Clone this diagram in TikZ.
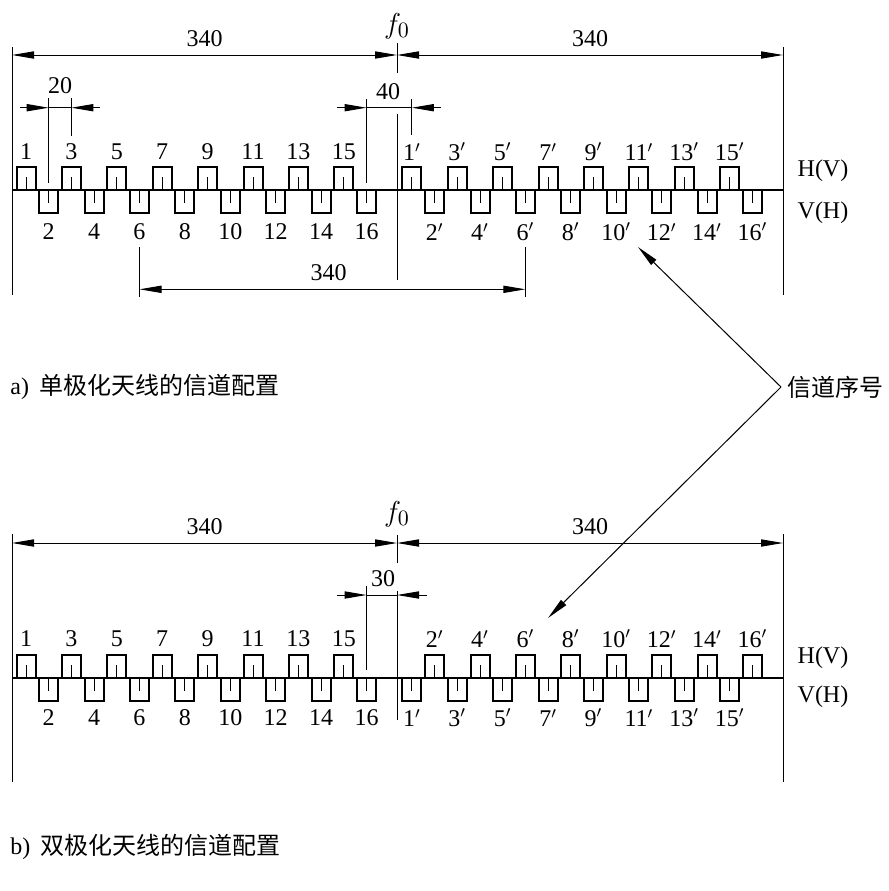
\documentclass[tikz,border=0pt]{standalone}
\usepackage{fontspec}
\setmainfont{Liberation Serif}
\newfontfamily\cjk{Noto Sans CJK SC}
\usetikzlibrary{arrows.meta}

\begin{document}
\begin{tikzpicture}[x=0.5pt, y=-0.5pt, every node/.style={font=\fontsize{12}{14}\selectfont, inner sep=1pt}, >={Triangle[length=11pt, width=3.6pt]}, thinline/.style={line width=0.5pt}, chan/.style={line width=1pt}, freq/.style={font=\fontsize{15}{17}\selectfont}]
	\useasboundingbox (0,0) rectangle (889,891);
	\begin{scope}
		\draw[thinline] (12,47) -- (12,295) (783,47) -- (783,295);
		\coordinate (aL) at (12,55); \coordinate (aC) at (397,55); \coordinate (aR) at (783,55);
		\draw[thinline, <->] (aL) -- (aC) node[midway, above=3pt] {340};
		\draw[thinline, <->] (aC) -- (aR) node[midway, above=3pt] {340};
		\node[freq] (af) at (397,26) {$f_0$};
		\draw[thinline] (397,43) -- (397,73) (397,114) -- (397,280);
		\draw[chan] (12,190) -- (783,190);
		\foreach \n in {1,...,16} {
			\pgfmathsetmacro{\cx}{26+(\n-1)*22.7}
			\ifodd\n
				\draw[chan] (\cx-9.5,190) |- (\cx+9.5,167) -- (\cx+9.5,190);
				\draw[thinline] (\cx,190) -- (\cx,177);
				\node (a\n) at (\cx,152) {\n};
			\else
				\draw[chan] (\cx-9.5,190) |- (\cx+9.5,213) -- (\cx+9.5,190);
				\draw[thinline] (\cx,190) -- (\cx,203);
				\node (a\n) at (\cx,232) {\n};
			\fi
		}
		\foreach \n in {1,...,16} {
			\pgfmathsetmacro{\cx}{26+(\n+16)*22.7}
			\ifodd\n
				\draw[chan] (\cx-9.5,190) |- (\cx+9.5,167) -- (\cx+9.5,190);
				\draw[thinline] (\cx,190) -- (\cx,177);
				\node (ap\n) at (\cx,152) {\n$'$};
			\else
				\draw[chan] (\cx-9.5,190) |- (\cx+9.5,213) -- (\cx+9.5,190);
				\draw[thinline] (\cx,190) -- (\cx,203);
				\node (ap\n) at (\cx,232) {\n$'$};
			\fi
		}
		\node (ahv) at (823,171) {H(V)};
		\node (avh) at (823,213) {V(H)};
		\draw[thinline] (48.7,98) -- (48.7,183) (71.4,98) -- (71.4,136);
		\coordinate (s20l) at (48.7,107.7); \coordinate (s20r) at (71.4,107.7);
		\draw[thinline] (s20l) -- (s20r);
		\draw[thinline, ->] (20,107.7) -- (s20l);
		\draw[thinline, ->] (100,107.7) -- (s20r);
		\node (n20) at (60,86) {20};
		\draw[thinline] (366.5,99) -- (366.5,183) (411.9,99) -- (411.9,135);
		\coordinate (s40l) at (366.5,107.7); \coordinate (s40r) at (411.9,107.7);
		\draw[thinline] (s40l) -- (s40r);
		\draw[thinline, ->] (336.7,107.7) -- (s40l);
		\draw[thinline, ->] (440.7,107.7) -- (s40r);
		\node (n40) at (388,92) {40};
		\draw[thinline] (139.5,247) -- (139.5,297) (525.4,247) -- (525.4,297);
		\coordinate (s6l) at (139.5,289.3); \coordinate (s6r) at (525.4,289.3);
		\draw[thinline, <->] (s6l) -- (s6r) node[pos=0.49, above=3pt] {340};
		\node[anchor=west] (capa) at (8,387) {a)\, {\cjk 单极化天线的信道配置}};
	\end{scope}
	\begin{scope}[shift={(0,488)}]
		\draw[thinline] (12,46) -- (12,294) (783,46) -- (783,294);
		\coordinate (bL) at (12,55); \coordinate (bC) at (397,55); \coordinate (bR) at (783,55);
		\draw[thinline, <->] (bL) -- (bC) node[midway, above=3pt] {340};
		\draw[thinline, <->] (bC) -- (bR) node[midway, above=3pt] {340};
		\node[freq] (bf) at (397,26) {$f_0$};
		\draw[thinline] (397,47) -- (397,75) (397,103) -- (397,232);
		\draw[chan] (12,190) -- (783,190);
		\foreach \n in {1,...,16} {
			\pgfmathsetmacro{\cx}{26+(\n-1)*22.7}
			\ifodd\n
				\draw[chan] (\cx-9.5,190) |- (\cx+9.5,167) -- (\cx+9.5,190);
				\draw[thinline] (\cx,190) -- (\cx,177);
				\node (b\n) at (\cx,151) {\n};
			\else
				\draw[chan] (\cx-9.5,190) |- (\cx+9.5,213) -- (\cx+9.5,190);
				\draw[thinline] (\cx,190) -- (\cx,203);
				\node (b\n) at (\cx,230) {\n};
			\fi
		}
		\foreach \n in {1,...,16} {
			\pgfmathsetmacro{\cx}{26+(\n+16)*22.7}
			\ifodd\n
				\draw[chan] (\cx-9.5,190) |- (\cx+9.5,213) -- (\cx+9.5,190);
				\draw[thinline] (\cx,190) -- (\cx,203);
				\node (bp\n) at (\cx,230) {\n$'$};
			\else
				\draw[chan] (\cx-9.5,190) |- (\cx+9.5,167) -- (\cx+9.5,190);
				\draw[thinline] (\cx,190) -- (\cx,177);
				\node (bp\n) at (\cx,151) {\n$'$};
			\fi
		}
		\node (bhv) at (823,170) {H(V)};
		\node (bvh) at (823,209) {V(H)};
		\draw[thinline] (366.5,98) -- (366.5,182);
		\coordinate (s30l) at (366.5,107); \coordinate (s30r) at (397,107);
		\draw[thinline] (s30l) -- (s30r);
		\draw[thinline, ->] (336.7,107) -- (s30l);
		\draw[thinline, ->] (427,107) -- (s30r);
		\node (n30) at (383,91) {30};
		\node[anchor=west] (capb) at (8,359) {b)\, {\cjk 双极化天线的信道配置}};
	\end{scope}
	\node[anchor=west] (seq) at (785,387) {\cjk 信道序号};
	\coordinate (seqv) at ([xshift=-2pt]seq.west);
	\coordinate (tipa) at (638,247);
	\coordinate (tipb) at (548,618);
	\draw[thinline, ->] (seqv) -- (tipa);
	\draw[thinline, ->] (seqv) -- (tipb);
\end{tikzpicture}
\end{document}
